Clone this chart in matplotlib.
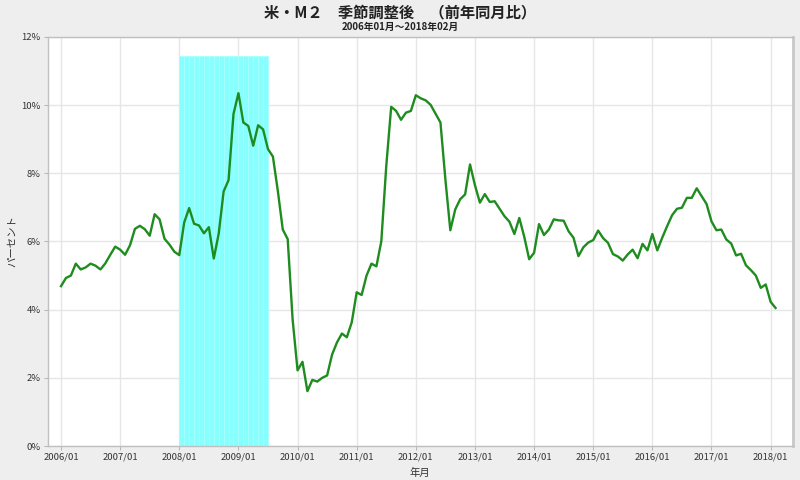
import matplotlib
matplotlib.use("Agg")
import matplotlib.pyplot as plt
import numpy as np

plt.rcParams['font.family'] = ['Noto Sans CJK JP', 'DejaVu Sans']

# Monthly M2 YoY growth (%), 2006/01 - 2018/02
values = [
    4.69, 4.93, 5.00, 5.35, 5.18, 5.24, 5.35, 5.29, 5.18, 5.36, 5.61, 5.85,   # 2006
    5.76, 5.61, 5.89, 6.37, 6.46, 6.36, 6.17, 6.80, 6.65, 6.08, 5.91, 5.70,   # 2007
    5.60, 6.56, 6.98, 6.52, 6.47, 6.24, 6.42, 5.50, 6.23, 7.47, 7.80, 9.74,   # 2008
    10.35, 9.49, 9.39, 8.81, 9.41, 9.29, 8.71, 8.49, 7.48, 6.35, 6.07, 3.71,  # 2009
    2.22, 2.47, 1.61, 1.94, 1.89, 2.00, 2.07, 2.68, 3.04, 3.30, 3.19, 3.63,   # 2010
    4.51, 4.43, 5.00, 5.35, 5.27, 6.01, 8.21, 9.95, 9.83, 9.57, 9.78, 9.83,   # 2011
    10.29, 10.20, 10.14, 10.01, 9.75, 9.49, 7.82, 6.33, 6.94, 7.24, 7.38, 8.26,  # 2012
    7.65, 7.14, 7.39, 7.16, 7.18, 6.96, 6.74, 6.58, 6.22, 6.69, 6.14, 5.48,   # 2013
    5.67, 6.51, 6.19, 6.35, 6.65, 6.62, 6.61, 6.30, 6.11, 5.57, 5.83, 5.97,   # 2014
    6.04, 6.32, 6.10, 5.96, 5.63, 5.56, 5.44, 5.62, 5.76, 5.51, 5.93, 5.74,   # 2015
    6.22, 5.74, 6.11, 6.45, 6.77, 6.96, 6.99, 7.28, 7.28, 7.56, 7.33, 7.10,   # 2016
    6.59, 6.33, 6.35, 6.06, 5.94, 5.59, 5.64, 5.30, 5.16, 5.00, 4.64, 4.74,   # 2017
    4.23, 4.05,                                                               # 2018
]
start_year = 2006
tick_labels = [f"{y}/01" for y in range(2006, 2019)]
yticks = [0, 2, 4, 6, 8, 10, 12]
ytick_labels = [f"{v}%" for v in yticks]
# shaded recession months (2008/01 - 2009/06)
recession_start = 24
recession_months = 18
recession_height = 11.44

title = "米・M２　季節調整後　（前年同月比）"
subtitle = "2006年01月～2018年02月"
xlabel = "年月"
ylabel = "パーセント"

x = np.arange(len(values))

fig = plt.figure(figsize=(8, 4.8), dpi=100, facecolor='#eeeeee')
ax = fig.add_axes([0.0594, 0.0708, 0.9316, 0.8522])
ax.set_facecolor('white')

# recession shading as monthly bars
rx = np.arange(recession_start, recession_start + recession_months)
ax.bar(rx, [recession_height] * len(rx), width=1.0, align='edge',
       color='#88ffff', edgecolor='#a8ffff', linewidth=0.6, zorder=1)

ax.plot(x, values, color='#1e8c1e', linewidth=1.7, zorder=3)

ax.set_xlim(-2.74, 148.5)
ax.set_ylim(0, 12)
ax.set_xticks(np.arange(0, 145, 12))
ax.set_xticklabels(tick_labels, fontsize=6.8, color='#333333')
ax.set_yticks(yticks)
ax.set_yticklabels(ytick_labels, fontsize=6.8, color='#333333')
ax.tick_params(axis='both', length=3, width=0.6, color='#aaaaaa', pad=2)
ax.grid(True, color='#e6e6e6', linewidth=1.0, zorder=0)
ax.set_axisbelow(True)
for side, sp in ax.spines.items():
    sp.set_color('#c0c0c0')
    sp.set_linewidth(1.0)
ax.spines['right'].set_linewidth(2.0)
ax.spines['right'].set_color('#c8c8c8')

ax.set_xlabel(xlabel, fontsize=7.5, color='#333333', labelpad=4)
ax.set_ylabel(ylabel, fontsize=7.5, color='#333333')
ax.yaxis.set_label_coords(-0.041, 0.5)

fig.text(0.5, 0.974, title, ha='center', va='center', fontsize=11, fontweight='bold', color='#222222')
fig.text(0.5, 0.943, subtitle, ha='center', va='center', fontsize=7, fontweight='bold', color='#222222')

fig.savefig('out.png', dpi=100, facecolor=fig.get_facecolor())
